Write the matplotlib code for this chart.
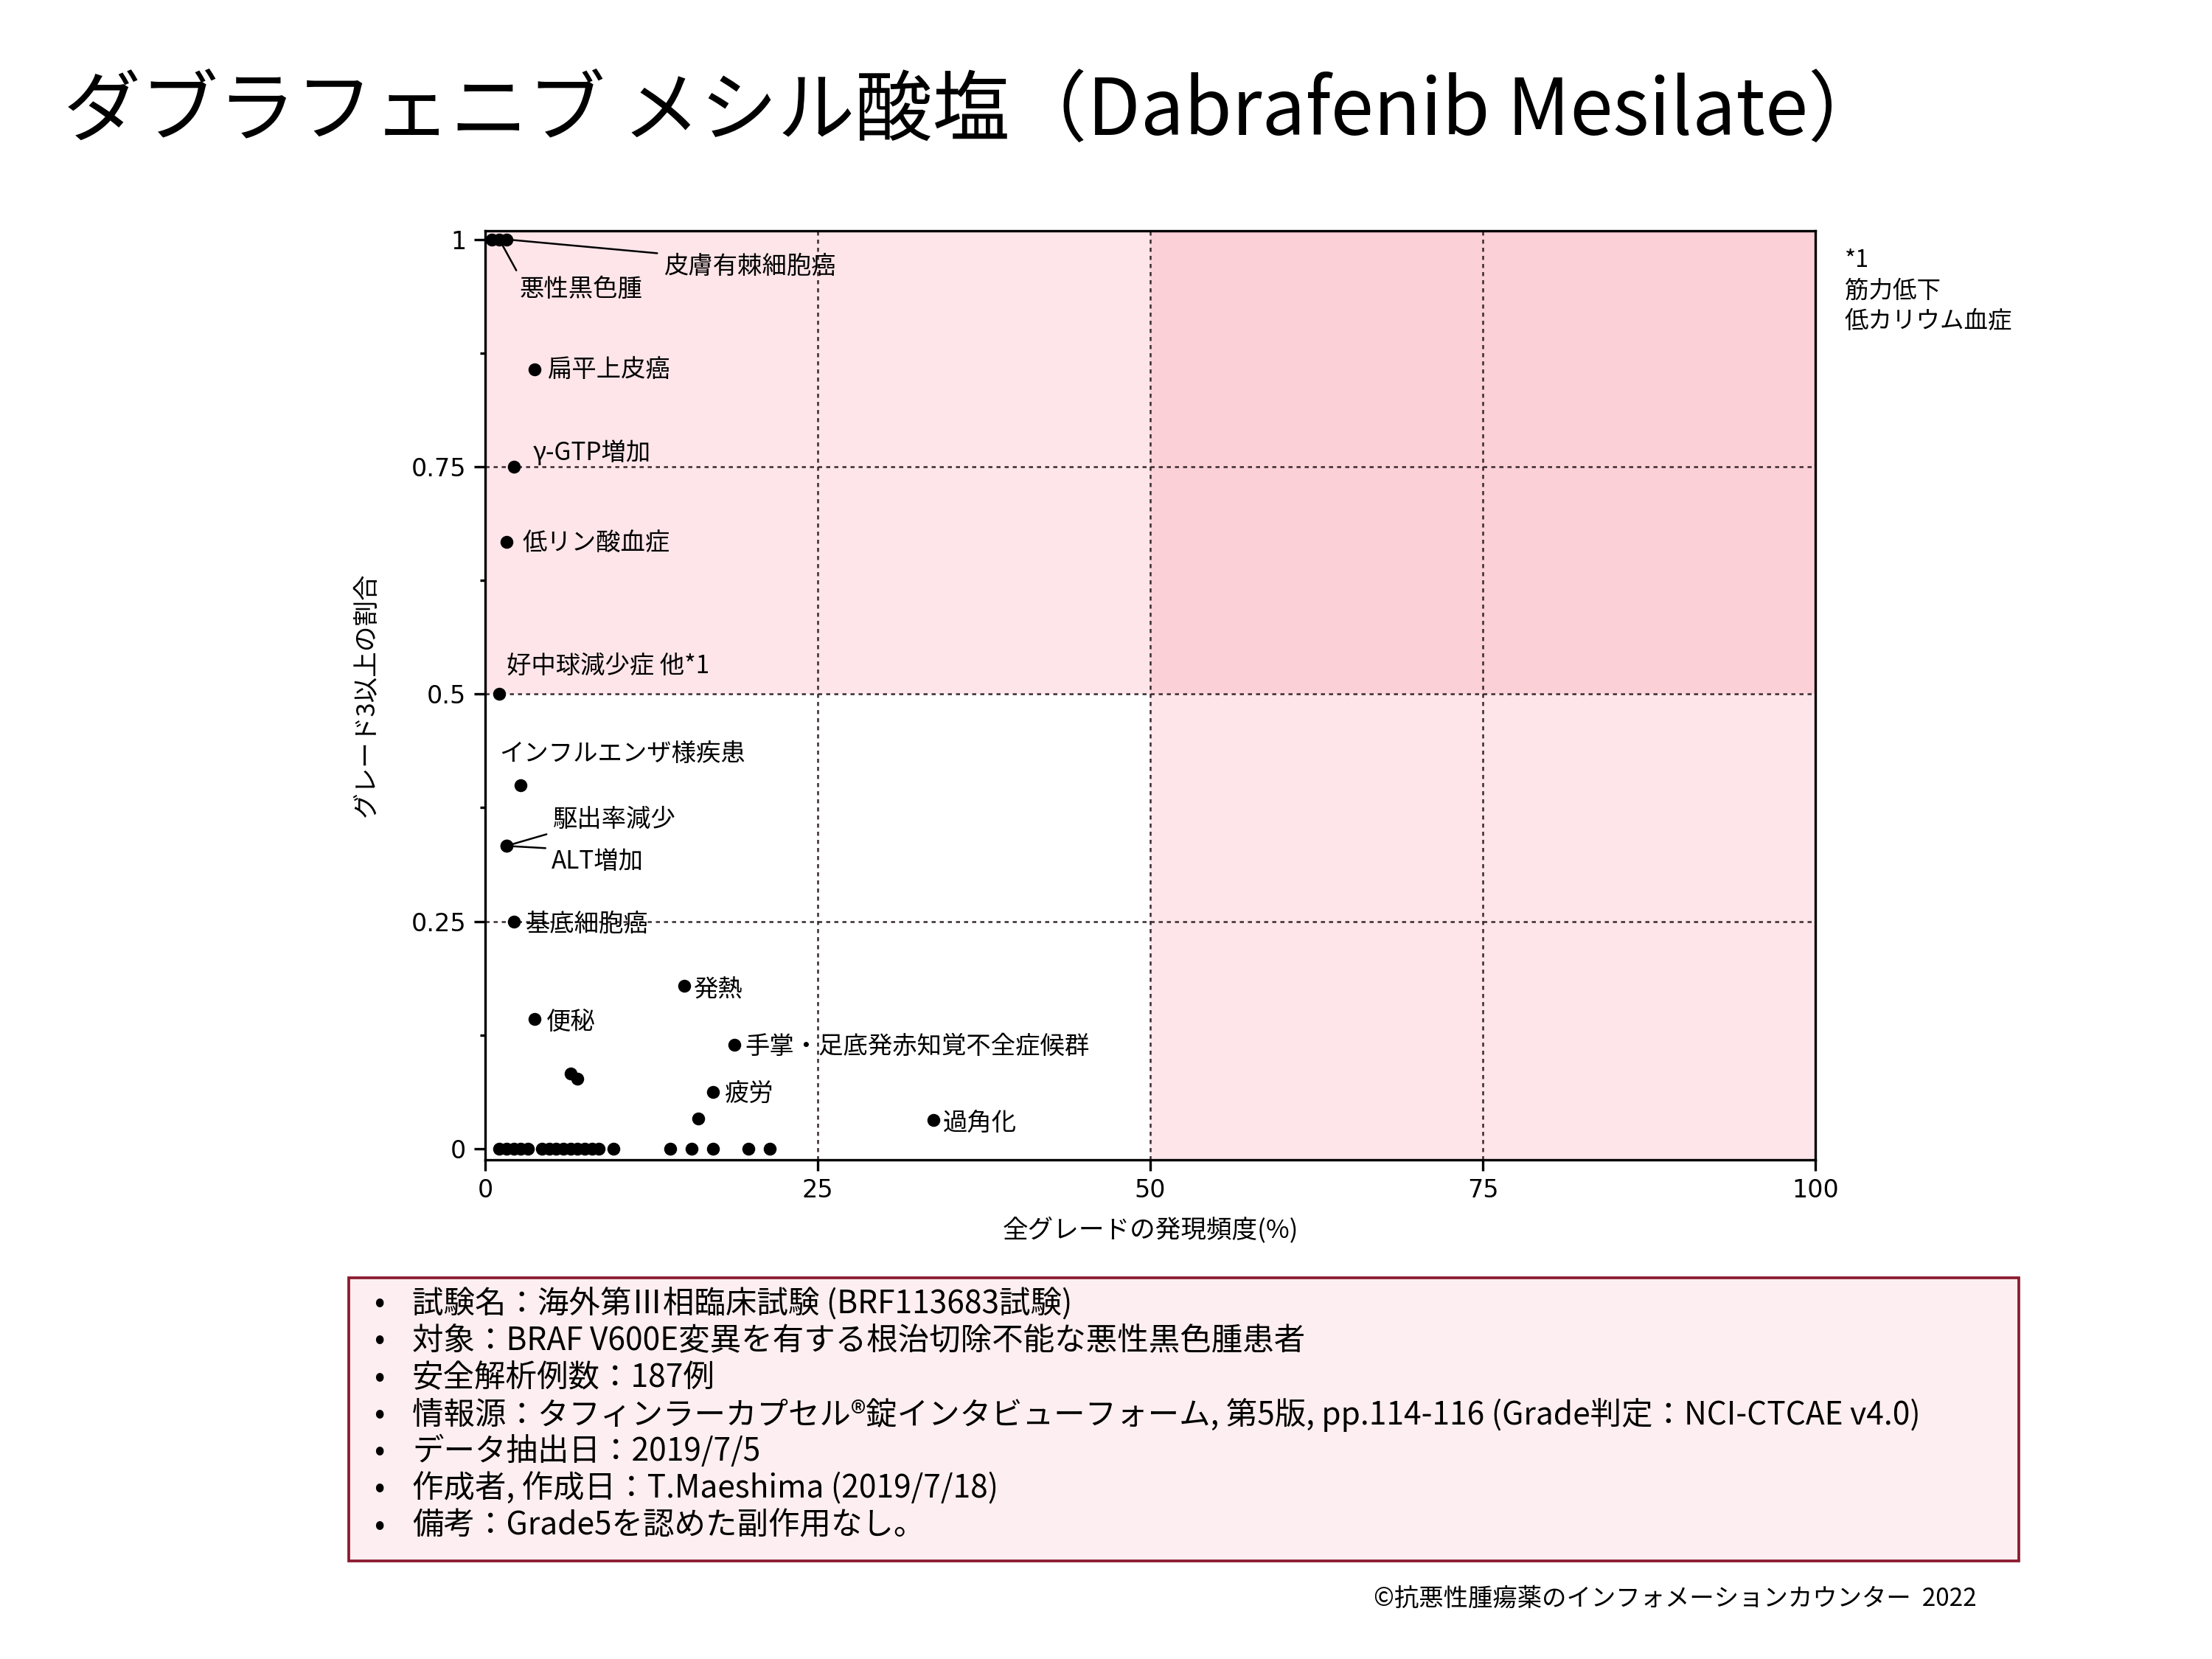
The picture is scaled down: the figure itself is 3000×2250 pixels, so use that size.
import matplotlib
matplotlib.use("Agg")
import matplotlib.pyplot as plt
from matplotlib.patches import Rectangle

plt.rcParams['font.family'] = ['Noto Sans CJK JP', 'DejaVu Sans']

# adverse events: all-grade incidence (%) and ratio of grade>=3
ae_names = ["悪性黒色腫", "皮膚有棘細胞癌", "扁平上皮癌", "γ-GTP増加", "低リン酸血症",
            "好中球減少症 他*1", "インフルエンザ様疾患", "駆出率減少", "ALT増加", "基底細胞癌",
            "発熱", "便秘", "手掌・足底発赤知覚不全症候群", "疲労", "過角化"]
ae_x = [1.07, 1.60, 3.74, 2.14, 1.60, 1.07, 2.67, 1.60, 1.60, 2.14,
        14.97, 3.74, 18.72, 17.11, 33.69]
ae_y = [1.0, 1.0, 0.857, 0.75, 0.667, 0.5, 0.4, 0.333, 0.333, 0.25,
        0.179, 0.143, 0.114, 0.0625, 0.0317]

# unlabeled events
other_x = [0.53, 6.42, 6.95, 16.04,
           1.07, 1.60, 2.14, 2.67, 3.21, 4.28, 4.81, 5.35, 5.88, 6.42,
           6.95, 7.49, 8.02, 8.56, 9.63, 13.90, 15.51, 17.11, 19.79, 21.39]
other_y = [1.0, 0.083, 0.077, 0.033,
           0, 0, 0, 0, 0, 0, 0, 0, 0, 0,
           0, 0, 0, 0, 0, 0, 0, 0, 0, 0]

# label placement (left edge, vertical centre) and whether a leader line is drawn
label_pos = [(2.6, 0.945), (13.4, 0.970), (4.74, 0.857), (3.6, 0.765), (2.8, 0.665),
             (1.63, 0.531), (1.09, 0.434), (5.08, 0.362), (5.0, 0.316), (3.05, 0.247),
             (15.68, 0.175), (4.61, 0.139), (19.56, 0.1125), (17.99, 0.0606), (34.4, 0.028)]
leader = {0: (0, 1), 1: (0, 1), 7: (0, 0), 8: (0, 1)}

x_ticks = [0, 25, 50, 75, 100]
y_ticks = [0, 0.25, 0.5, 0.75, 1]
y_ticklabels = ["0", "0.25", "0.5", "0.75", "1"]
grid_x = [25, 50, 75]
grid_y = [0.25, 0.5, 0.75]

title = "ダブラフェニブ メシル酸塩（Dabrafenib Mesilate）"
footnote = "*1\n筋力低下\n低カリウム血症"
info_lines = [
    "試験名：海外第Ⅲ相臨床試験 (BRF113683試験)",
    "対象：BRAF V600E変異を有する根治切除不能な悪性黒色腫患者",
    "安全解析例数：187例",
    "情報源：タフィンラーカプセル®錠インタビューフォーム, 第5版, pp.114-116 (Grade判定：NCI-CTCAE v4.0)",
    "データ抽出日：2019/7/5",
    "作成者, 作成日：T.Maeshima (2019/7/18)",
    "備考：Grade5を認めた副作用なし。",
]
copyright_text = "©抗悪性腫瘍薬のインフォメーションカウンター  2022"

fig = plt.figure(figsize=(10, 7.5), dpi=300)
ax = fig.add_axes([0.2193, 0.301, 0.6014, 0.56])

ax.set_xlim(0, 100)
ax.set_ylim(-0.012, 1.0097)

pink = (245 / 255, 120 / 255, 140 / 255)
ax.axvspan(50, 100, color=pink, alpha=0.19, lw=0, zorder=0)
ax.axhspan(0.5, 1.02, color=pink, alpha=0.19, lw=0, zorder=0)

for gx in grid_x:
    ax.axvline(gx, color='#3a2a2e', lw=0.6, ls=(0, (2.2, 2.2)), zorder=1)
for gy in grid_y:
    ax.axhline(gy, color='#3a2a2e', lw=0.6, ls=(0, (2.2, 2.2)), zorder=1)

ax.plot(other_x, other_y, 'o', color='black', ms=3.2, zorder=3, clip_on=False)
ax.plot(ae_x, ae_y, 'o', color='black', ms=3.2, zorder=3, clip_on=False)

for i, name in enumerate(ae_names):
    tx, ty = label_pos[i]
    if i in leader:
        ax.annotate(name, xy=(ae_x[i], ae_y[i]), xytext=(tx, ty), fontsize=8,
                    va='center', ha='left', zorder=4,
                    arrowprops=dict(arrowstyle='-', color='black', lw=0.6,
                                    shrinkA=0, shrinkB=0, relpos=leader[i]))
    else:
        ax.text(tx, ty, name, fontsize=8, va='center', ha='left', zorder=4)

for s in ax.spines.values():
    s.set_linewidth(0.8)

ax.set_xticks(x_ticks)
ax.set_xticklabels([str(v) for v in x_ticks], fontsize=8, family='DejaVu Sans')
ax.set_yticks(y_ticks)
ax.set_yticklabels(y_ticklabels, fontsize=8, family='DejaVu Sans')
ax.set_yticks([0.125, 0.375, 0.625, 0.875], minor=True)
ax.tick_params(axis='both', which='major', direction='out', length=3.6, width=0.8, pad=2.5)
ax.tick_params(axis='y', which='minor', direction='out', length=1.8, width=0.8)

ax.set_xlabel("全グレードの発現頻度(%)", fontsize=8.3)
ax.xaxis.set_label_coords(0.5, -0.0755)
ax.xaxis.label.set_va('center')
ax.set_ylabel("グレード3以上の割合", fontsize=8.3)
ax.yaxis.set_label_coords(-0.0887, 0.5)
ax.yaxis.label.set_va('center')

fig.text(0.0287, 0.932, title, fontsize=25.2, va='center', ha='left')
fig.text(0.834, 0.850, footnote, fontsize=7.8, va='top', ha='left', linespacing=1.38)

# info box
fig.add_artist(Rectangle((0.1577, 0.0591), 0.755, 0.1707, transform=fig.transFigure,
                         facecolor='#fdeef1', edgecolor='#8c1a2e', lw=0.9))
for k, line in enumerate(info_lines):
    yy = 0.2142 - k * 0.02235
    fig.text(0.169, yy, "•", fontsize=10.2, va='center', ha='left')
    fig.text(0.1863, yy, line, fontsize=10.2, va='center', ha='left')

fig.text(0.8937, 0.0364, copyright_text, fontsize=8, va='center', ha='right')

fig.savefig("out.png", dpi=300)
